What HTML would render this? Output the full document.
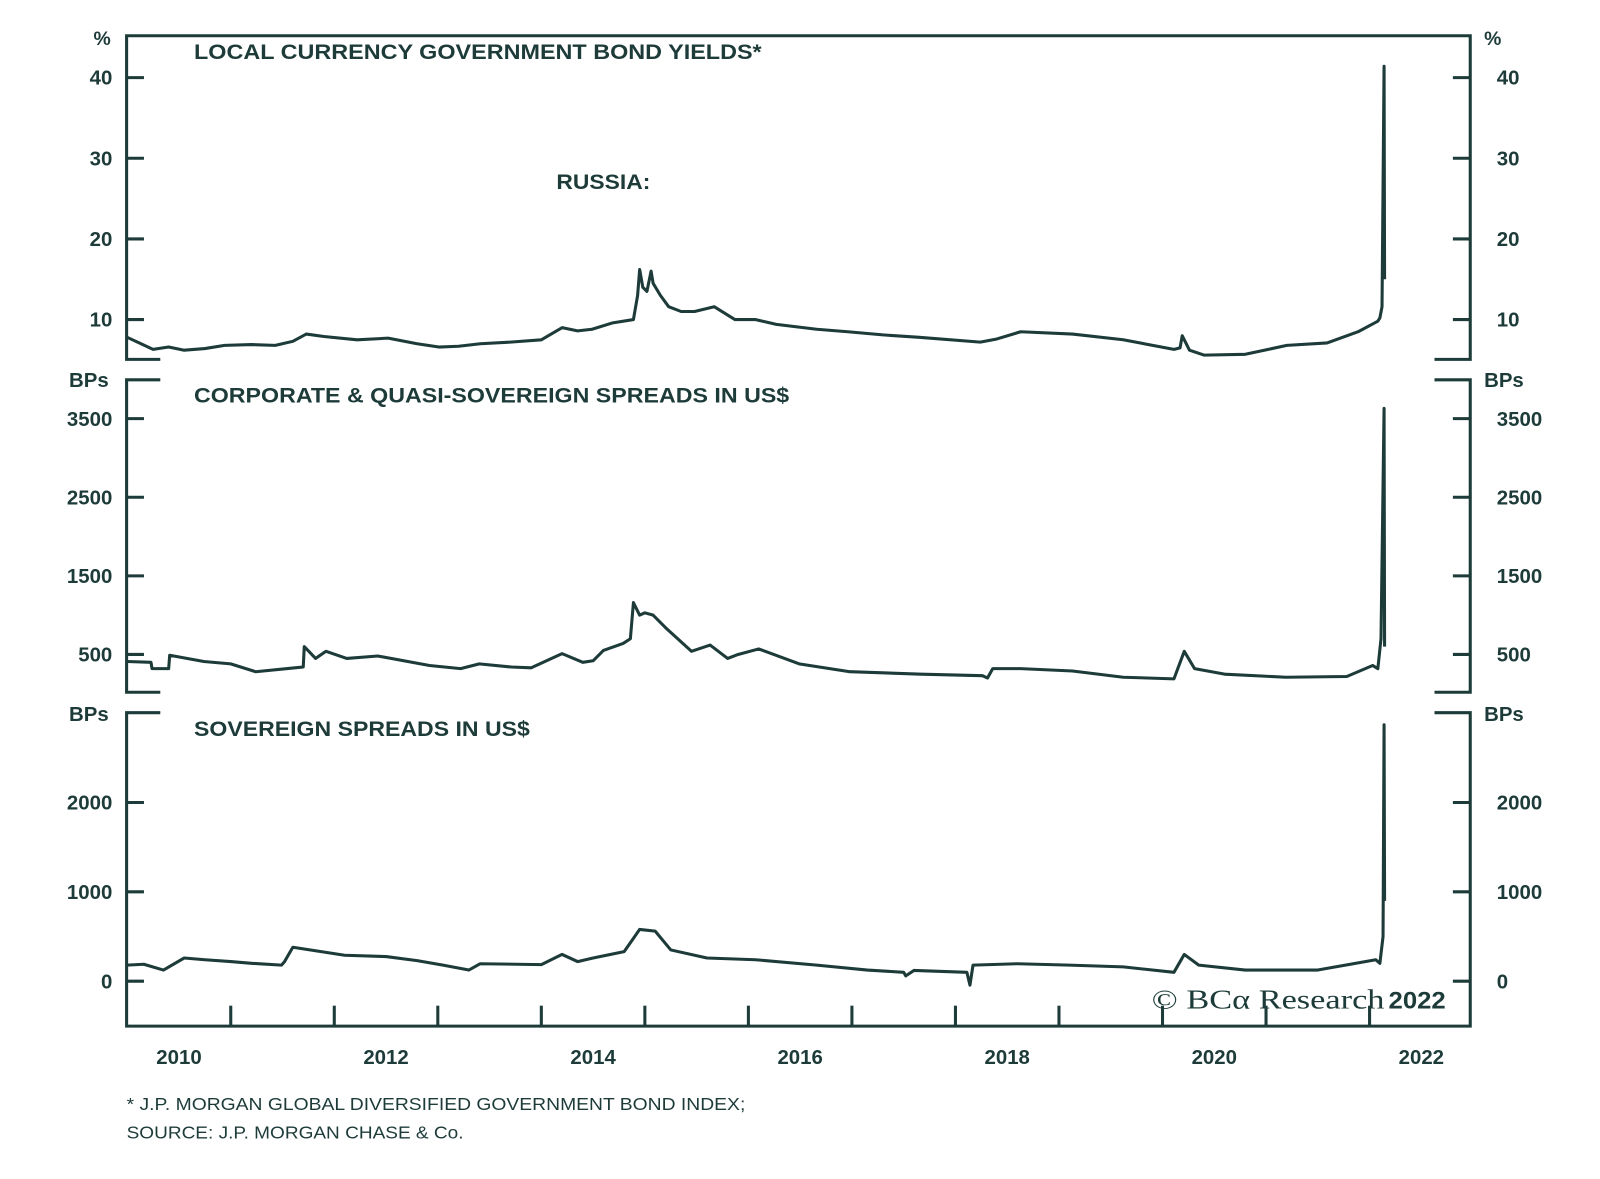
<!DOCTYPE html>
<html><head><meta charset="utf-8">
<style>
html,body{margin:0;padding:0;background:#fff;}
svg{display:block;}
text{font-family:"Liberation Sans",sans-serif;fill:#1d3b39;font-weight:bold;}
</style></head>
<body>
<svg id="chart" width="1600" height="1179" viewBox="0 0 1600 1179">
<g transform="scale(1.021)">
<g id="frames" stroke="#1d3b39" stroke-width="3" fill="none"></g>
<g id="labels"></g>
<g id="series" fill="none" stroke="#1d3b39" stroke-width="3" stroke-linejoin="round"></g>
</g>
</svg>
<script>
// ---- data ----
const yieldDates = [2010.0,2010.1,2010.25,2010.4,2010.55,2010.75,2010.94,2011.2,2011.43,2011.6,2011.73,2011.9,2012.22,2012.52,2012.8,2013.01,2013.2,2013.41,2013.7,2014.0,2014.2,2014.35,2014.49,2014.69,2014.89,2014.93,2014.95,2014.98,2015.02,2015.06,2015.08,2015.15,2015.23,2015.35,2015.48,2015.67,2015.87,2016.07,2016.27,2016.66,2016.96,2017.3,2017.65,2018.24,2018.4,2018.63,2019.13,2019.62,2020.11,2020.17,2020.19,2020.26,2020.4,2020.8,2021.2,2021.59,2021.89,2022.08,2022.1,2022.12,2022.14,2022.145];
const yieldValues = [7.8,7.2,6.3,6.6,6.2,6.4,6.8,6.9,6.8,7.3,8.2,7.9,7.5,7.7,7.0,6.6,6.7,7.0,7.2,7.5,9.0,8.6,8.8,9.6,10.0,13.0,16.2,14.0,13.5,16.0,14.5,13.0,11.6,11.0,11.0,11.6,10.0,10.0,9.4,8.8,8.5,8.1,7.8,7.2,7.6,8.5,8.2,7.5,6.3,6.5,8.0,6.2,5.6,5.7,6.8,7.1,8.5,9.8,10.2,11.6,41.4,15.0];
const corpDates = [2010.0,2010.23,2010.24,2010.4,2010.41,2010.74,2011.0,2011.24,2011.62,2011.7,2011.71,2011.82,2011.92,2012.12,2012.42,2012.92,2013.22,2013.4,2013.71,2013.9,2014.2,2014.4,2014.5,2014.6,2014.79,2014.86,2014.89,2014.95,2015.0,2015.08,2015.2,2015.45,2015.63,2015.8,2015.9,2016.1,2016.49,2016.98,2017.67,2018.26,2018.31,2018.36,2018.63,2019.13,2019.62,2020.11,2020.21,2020.31,2020.6,2021.19,2021.78,2022.03,2022.08,2022.11,2022.14,2022.145];
const corpValues = [410,400,320,320,490,410,380,280,330,340,600,450,540,450,480,360,320,380,340,330,510,400,420,550,640,700,1160,1000,1030,1000,840,540,620,450,500,570,380,280,250,230,200,320,320,290,210,190,540,320,250,210,220,360,320,700,3630,600];
const sovDates = [2010.0,2010.16,2010.35,2010.55,2010.75,2011.0,2011.2,2011.49,2011.52,2011.6,2012.1,2012.5,2012.8,2013.05,2013.3,2013.41,2014.0,2014.2,2014.35,2014.5,2014.8,2014.95,2015.1,2015.25,2015.6,2016.07,2016.66,2017.15,2017.5,2017.52,2017.6,2018.11,2018.14,2018.17,2018.6,2019.1,2019.62,2020.11,2020.21,2020.35,2020.8,2021.5,2022.06,2022.1,2022.13,2022.14,2022.145];
const sovValues = [180,190,125,260,240,220,200,180,220,380,290,275,230,180,125,195,185,300,220,260,330,580,560,350,260,240,180,125,100,60,120,100,-45,180,195,180,160,100,300,180,125,125,240,200,500,2870,900];
const yieldTicks = [10,20,30,40];
const corpTicks = [500,1500,2500,3500];
const sovTicks = [0,1000,2000];
const yearLabels = [2010,2012,2014,2016,2018,2020,2022];

// ---- scales ----
const L=124, R=1440;
function X(yr){return 124.6+(yr-2010)*101.4;}
function Y1(v){return 76+(40-v)*7.9;}
function Y2(v){return 410+(3500-v)*0.077;}
function Y3(v){return 961-v*0.0875;}
const NS='http://www.w3.org/2000/svg';
function mk(tag,attrs,parent,txt){const e=document.createElementNS(NS,tag);for(const k in attrs)e.setAttribute(k,attrs[k]);if(txt!==undefined)e.textContent=txt;parent.appendChild(e);return e;}
const frames=document.getElementById('frames');
const labels=document.getElementById('labels');
const series=document.getElementById('series');

let f;
f=mk('path',{d:`M157 352 H${L} V35 H${R} V352 H1405`},frames);


f=mk('path',{d:`M157 372 H${L} V678 H157 M1405 372 H${R} V678 H1405`},frames);


f=mk('path',{d:`M157 698 H${L} V1005 H${R} V698 H1405`},frames);



function ticks(arr,Yf,name){
  arr.forEach(v=>{
    const y=Yf(v);
    let t=mk('path',{d:`M${L} ${y} H${L+17} M${R} ${y} H${R-17}`},frames);
    
    
    let a=mk('text',{x:110,y:y+7,'text-anchor':'end','font-size':20},labels,String(v));
    
    
    let b=mk('text',{x:1466,y:y+7,'text-anchor':'start','font-size':20},labels,String(v));
    
    
  });
}
ticks(yieldTicks,Y1,'yield');
ticks(corpTicks,Y2,'corp');
ticks(sovTicks,Y3,'sov');
for(let yr=2011;yr<=2022;yr++){
  let t=mk('path',{d:`M${X(yr)} 1005 V985`},frames);
  
  
}
yearLabels.forEach(yr=>{
  let t=mk('text',{x:X(yr+0.5),y:1042,'text-anchor':'middle','font-size':20},labels,String(yr));
  
  
});

function txt(x,y,s,size,name,anchor,len){
  const a={x:x,y:y,'font-size':size,'text-anchor':anchor||'start'};
  if(len){a.textLength=len;a.lengthAdjust='spacingAndGlyphs';}
  const t=mk('text',a,labels,s);
  
  
  return t;
}
txt(100,44,'%',19,'unit-left-1','middle');
txt(1462,44,'%',19,'unit-right-1','middle');
txt(87,379,'BPs',20,'unit-left-2','middle');
txt(1473,379,'BPs',20,'unit-right-2','middle');
txt(87,706,'BPs',20,'unit-left-3','middle');
txt(1473,706,'BPs',20,'unit-right-3','middle');
txt(190,58,'LOCAL CURRENCY GOVERNMENT BOND YIELDS*',21,'panel-1-title','start',556);
txt(545,185,'RUSSIA:',21,'country-label','start',92);
txt(190,394,'CORPORATE & QUASI-SOVEREIGN SPREADS IN US$',21,'panel-2-title','start',583);
txt(190,721,'SOVEREIGN SPREADS IN US$',21,'panel-3-title','start',329);
let c=txt(1128,988,'© BCα Research',27,'copyright','start',228);
c.style.fontFamily='"Liberation Serif",serif';c.style.fontWeight='normal';
txt(1360,988,'2022',24,'copyright-year','start',56);
txt(124,1087,'* J.P. MORGAN GLOBAL DIVERSIFIED GOVERNMENT BOND INDEX;',17,'footnote','start',606).style.fontWeight='normal';
txt(124,1115,'SOURCE: J.P. MORGAN CHASE & Co.',17,'source','start',330).style.fontWeight='normal';

function line(d,v,Yf,name){
  const pts=d.map((yr,i)=>X(yr).toFixed(1)+','+Yf(v[i]).toFixed(1)).join(' ');
  const p=mk('polyline',{points:pts},series);
  
  
}
line(yieldDates,yieldValues,Y1,'yield-line');
line(corpDates,corpValues,Y2,'corp-spread-line');
line(sovDates,sovValues,Y3,'sov-spread-line');
</script>
</body></html>
